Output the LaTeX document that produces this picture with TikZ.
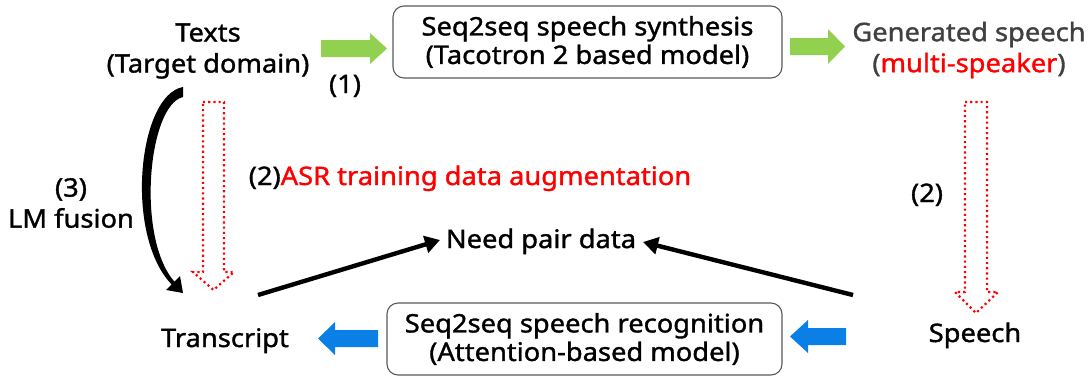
\documentclass[tikz,border=0pt]{standalone}
\usepackage{fontspec}
\setmainfont{Noto Sans}[FakeStretch=1.07, FakeBold=1.3]
\usetikzlibrary{arrows.meta}
\definecolor{boxgray}{HTML}{595959}
\definecolor{txtgray}{HTML}{404040}
\definecolor{leafgreen}{HTML}{92D050}
\definecolor{skyblue}{HTML}{0A80E6}
\definecolor{alertred}{HTML}{FF0000}
\tikzset{
  lbl/.style={font=\fontsize{25.5}{31}\selectfont, align=center, inner sep=0pt},
  modelbox/.style={draw=boxgray, line width=1.1pt, rounded corners=11pt, align=center,
    font=\fontsize{25.5}{28.5}\selectfont, inner sep=0pt},
  greenarrow/.style={fill=leafgreen, draw=none},
  bluearrow/.style={fill=skyblue, draw=none},
  dotarrow/.style={draw=alertred, line width=2.2pt, dash pattern=on 2.1pt off 3.1pt, line join=miter},
  link/.style={draw=black, line width=4.4pt, -{Triangle[length=15pt,width=17pt]}},
}
\begin{document}
\begin{tikzpicture}[x=1pt,y=-1pt]
\useasboundingbox (0,0) rectangle (1089,376);

% ---- text nodes ----
\node[lbl] (texts) at (208,51) {Texts\\(Target domain)};
\node[lbl] (gen) at (969,50) {\color{txtgray}Generated speech\\\color{txtgray}(\textcolor{alertred}{multi-speaker})};
\node[modelbox, minimum width=389pt, minimum height=72pt] (tts) at (587.5,42) {Seq2seq speech synthesis\\(Tacotron 2 based model)};
\node[modelbox, minimum width=395pt, minimum height=72pt] (asr) at (584.5,339) {Seq2seq speech recognition\\(Attention-based model)};
\node[lbl, anchor=base] (trans) at (225,347) {Transcript};
\node[lbl, anchor=base] (speech) at (975,342) {Speech};
\node[lbl, anchor=base] (need) at (541,248) {Need pair data};
\node[lbl, anchor=base] (aug) at (470,185) {(2)\textcolor{alertred}{ASR training data augmentation}};
\node[lbl, anchor=base] (one) at (345,93) {(1)};
\node[lbl, anchor=base] (two) at (927,202) {(2)};
\node[lbl] (lm) at (71,203) {(3)\\LM fusion};

% ---- end points of the pair-data links ----
\coordinate (transtop) at (258,295);
\coordinate (needleft) at (440,240);
\coordinate (speechtop) at (853,295);
\coordinate (needright) at (643,242);
\draw[link] (transtop) -- (needleft);
\draw[link] (speechtop) -- (needright);

% ---- green block arrows (synthesis) ----
\fill[greenarrow] (321,40) -- (370,40) -- (370,33) -- (387,48.5) -- (370,64) -- (370,57) -- (321,57) -- cycle;
\fill[greenarrow] (790,38) -- (828,38) -- (828,29) -- (845,46.5) -- (828,64) -- (828,55) -- (790,55) -- cycle;

% ---- blue block arrows (recognition) ----
\fill[bluearrow] (378,330) -- (335,330) -- (335,322) -- (318,338.5) -- (335,355) -- (335,347) -- (378,347) -- cycle;
\fill[bluearrow] (846,328) -- (808,328) -- (808,320) -- (790,336.5) -- (808,353) -- (808,345) -- (846,345) -- cycle;

% ---- dotted red block arrows (data augmentation) ----
\draw[dotarrow] (203,102) -- (224,102) -- (224,272) -- (234,272) -- (213.5,290) -- (193,272) -- (203,272) -- cycle;
\draw[dotarrow] (965,102) -- (987,102) -- (987,292) -- (998,292) -- (976,313) -- (955,292) -- (965,292) -- cycle;

% ---- tapered curved arrow (LM fusion) ----
\fill[black] (183,87) .. controls (138,95) and (124,235) .. (171.6,284.4)
  -- (166,290) -- (183,293) -- (180,276) -- (174.4,281.6)
  .. controls (136,238) and (148,105) .. (183,97) -- cycle;
\end{tikzpicture}
\end{document}
